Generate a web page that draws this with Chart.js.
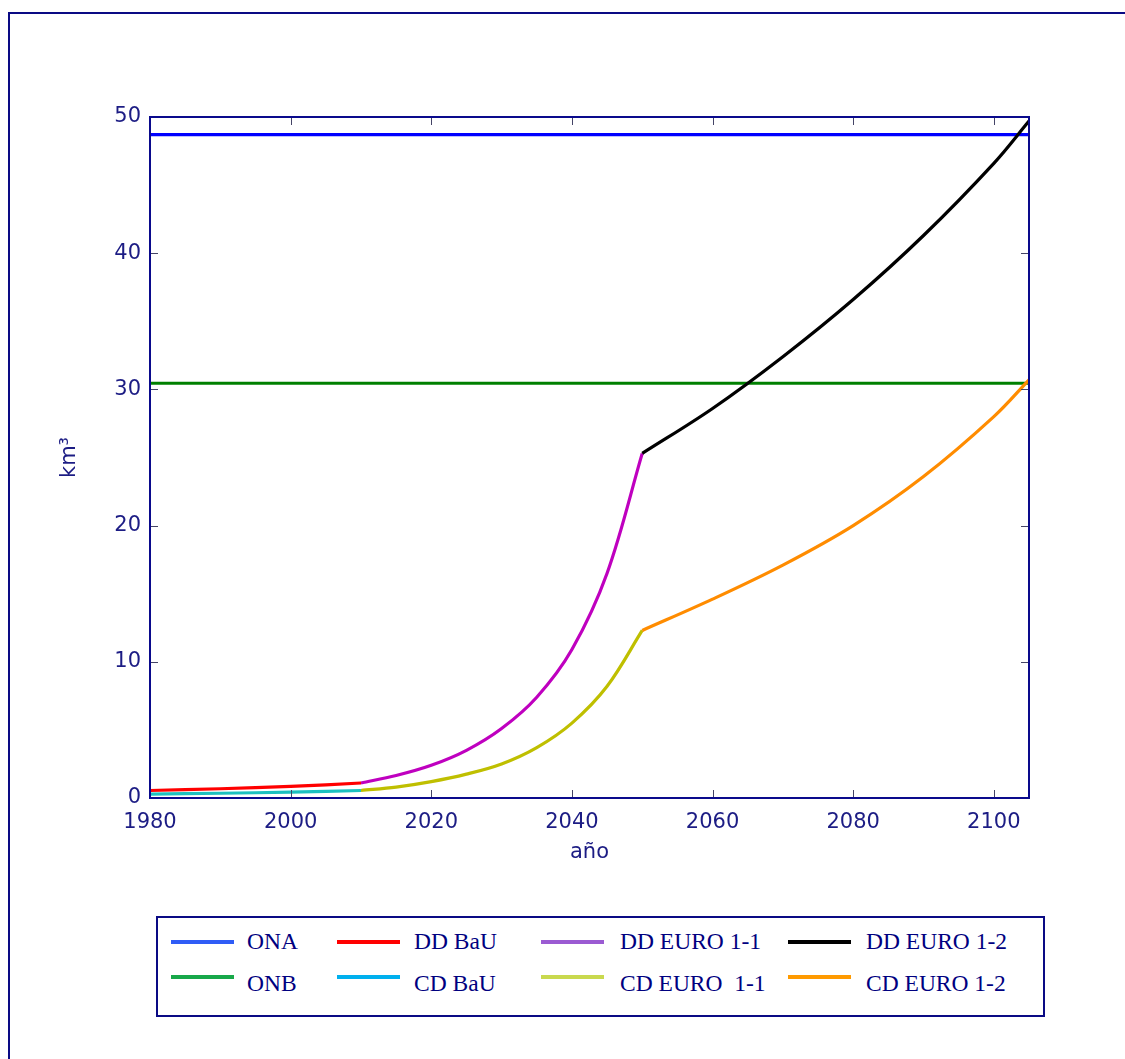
<!DOCTYPE html>
<html><head><meta charset="utf-8">
<script src="https://cdn.jsdelivr.net/npm/chart.js@4/dist/chart.umd.min.js"></script>
<style>
html,body{margin:0;padding:0;background:#fff;width:1125px;height:1059px;overflow:hidden;position:relative;}
#frame{position:absolute;left:8px;top:12px;width:1200px;height:1100px;border:2px solid #0a0a84;box-sizing:border-box;}
#wrap{position:absolute;left:0;top:0;width:1125px;height:869px;}
#legend{position:absolute;left:156px;top:916px;width:889px;height:101px;border:2px solid #0a0a84;box-sizing:border-box;}
.ls{position:absolute;width:63px;height:4px;}
.lt{position:absolute;font-family:"Liberation Serif","Times New Roman",serif;font-size:23.5px;color:#000080;white-space:pre;line-height:24px;}
</style></head>
<body>
<div id="frame"></div>
<div id="wrap"><canvas id="c" width="1125" height="869"></canvas></div>
<div id="legend"></div>
<script>
// ---- data ----
const spanYears = [1980, 2105];
const onaValues = [48.7, 48.7];
const onbValues = [30.45, 30.45];
const yearsBaU = [1980, 1990, 2000, 2010];
const ddBaU = [0.55, 0.68, 0.85, 1.1];
const cdBaU = [0.28, 0.35, 0.43, 0.55];
const yearsE11 = [2010, 2015, 2020, 2025, 2030, 2035, 2040, 2045, 2050];
const ddEuro11 = [1.1, 1.65, 2.4, 3.5, 5.1, 7.4, 10.9, 16.5, 25.3];
const cdEuro11 = [0.55, 0.8, 1.2, 1.75, 2.5, 3.7, 5.5, 8.2, 12.3];
const yearsE12 = [2050, 2060, 2070, 2080, 2090, 2100, 2105];
const ddEuro12 = [25.3, 28.6, 32.4, 36.6, 41.3, 46.6, 49.7];
const cdEuro12 = [12.3, 14.6, 17.1, 20.0, 23.6, 28.0, 30.7];
const xTicks = [1980, 2000, 2020, 2040, 2060, 2080, 2100];
const yTicks = [0, 10, 20, 30, 40, 50];
const legendLabels = [["ONA","DD BaU","DD EURO 1-1","DD EURO 1-2"],["ONB","CD BaU","CD EURO  1-1","CD EURO 1-2"]];
const legendColors = [["#2f5cf6","#ff0000","#9b5bd2","#000000"],["#18a84a","#00b0ee","#c9d94e","#ff9a00"]];

const pts = (xs, ys) => xs.map((x, i) => ({x: x, y: ys[i]}));
const navy = '#1c1c84';

function ds(label, xs, ys, color, order) {
  return {label, data: pts(xs, ys), borderColor: color, borderWidth: 3.2, pointRadius: 0,
    fill: false, tension: 0.35, order: order};
}

const boxPlugin = {
  id: 'box',
  afterDatasetsDraw(chart) {
    const ctx = chart.ctx, a = chart.chartArea;
    const xs = chart.scales.x, ys = chart.scales.y;
    ctx.save();
    ctx.strokeStyle = '#444466'; ctx.lineWidth = 1;
    ctx.beginPath();
    xTicks.forEach(v => {
      const px = Math.round(xs.getPixelForValue(v)) + 0.5;
      ctx.moveTo(px, a.bottom); ctx.lineTo(px, a.bottom - 8);
      ctx.moveTo(px, a.top); ctx.lineTo(px, a.top + 8);
    });
    yTicks.forEach(v => {
      const py = Math.round(ys.getPixelForValue(v)) + 0.5;
      ctx.moveTo(a.left, py); ctx.lineTo(a.left + 8, py);
      ctx.moveTo(a.right, py); ctx.lineTo(a.right - 8, py);
    });
    ctx.stroke();
    ctx.strokeStyle = '#0a0a8c'; ctx.lineWidth = 2;
    ctx.strokeRect(a.left, a.top, a.right - a.left, a.bottom - a.top);
    ctx.restore();
  }
};

new Chart(document.getElementById('c'), {
  type: 'line',
  data: {datasets: [
    ds('DD BaU', yearsBaU, ddBaU, '#ff0000', 1),
    ds('CD BaU', yearsBaU, cdBaU, '#1cc0c0', 1),
    ds('DD EURO 1-1', yearsE11, ddEuro11, '#bf00bf', 1),
    ds('CD EURO 1-1', yearsE11, cdEuro11, '#bfbf00', 1),
    ds('DD EURO 1-2', yearsE12, ddEuro12, '#000000', 0),
    ds('CD EURO 1-2', yearsE12, cdEuro12, '#ff8c00', 0),
    ds('ONA', spanYears, onaValues, '#0000ff', 5),
    ds('ONB', spanYears, onbValues, '#008000', 5)
  ]},
  options: {
    responsive: false, animation: false, devicePixelRatio: 1,
    layout: {padding: {left: 53, top: 117, right: 96, bottom: 0}},
    plugins: {legend: {display: false}, tooltip: {enabled: false}},
    scales: {
      x: {type: 'linear', min: 1980, max: 2105,
        afterBuildTicks: s => { s.ticks = xTicks.map(v => ({value: v})); },
        afterFit: s => { s.height = 71; },
        grid: {display: false, drawTicks: false}, border: {display: false},
        ticks: {padding: 12, color: navy, font: {family: 'DejaVu Sans', size: 21}, callback: v => String(v), maxRotation: 0, autoSkip: false},
        title: {display: true, text: 'año', color: navy, font: {family: 'DejaVu Sans', size: 21}}
      },
      y: {type: 'linear', min: 0, max: 50,
        afterBuildTicks: s => { s.ticks = yTicks.map(v => ({value: v})); },
        afterFit: s => { s.width = 97; },
        grid: {display: false, drawTicks: false}, border: {display: false},
        ticks: {padding: 9, color: navy, font: {family: 'DejaVu Sans', size: 21}, callback: v => String(v)},
        title: {display: true, text: 'km³', color: navy, font: {family: 'DejaVu Sans', size: 21}}
      }
    }
  },
  plugins: [boxPlugin]
});

// ---- legend (HTML) ----
const legend = document.getElementById('legend');
const colLine = [13, 179, 383, 630];
const colText = [89, 256, 462, 708];
const lineTop = [22, 57];
const textTop = [11, 53];
legendLabels.forEach((row, r) => row.forEach((lab, c) => {
  const s = document.createElement('div'); s.className = 'ls';
  s.style.left = colLine[c] + 'px'; s.style.top = lineTop[r] + 'px'; s.style.background = legendColors[r][c];
  legend.appendChild(s);
  const t = document.createElement('div'); t.className = 'lt'; t.textContent = lab;
  t.style.left = colText[c] + 'px'; t.style.top = textTop[r] + 'px';
  legend.appendChild(t);
}));
</script>
</body></html>
